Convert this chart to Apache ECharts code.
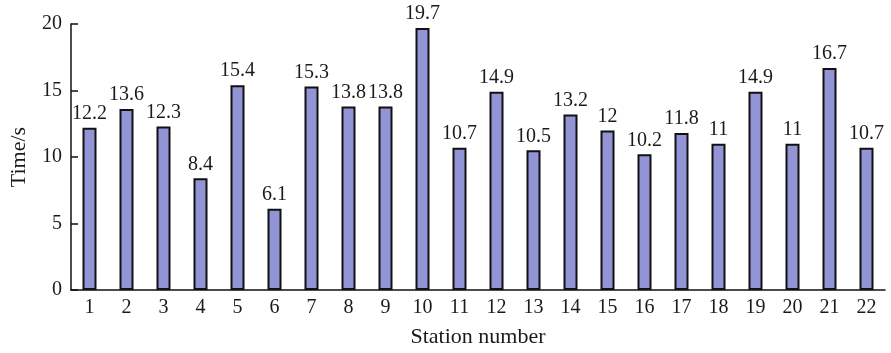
<!DOCTYPE html>
<html><head><meta charset="utf-8">
<script src="https://cdn.jsdelivr.net/npm/echarts@6/dist/echarts.min.js"></script>
<style>html,body{margin:0;padding:0;background:#fff}#c{width:891px;height:353px}</style>
</head><body><div id="c"></div>
<script>
const categories = ['1','2','3','4','5','6','7','8','9','10','11','12','13','14','15','16','17','18','19','20','21','22'];
const times = [12.2,13.6,12.3,8.4,15.4,6.1,15.3,13.8,13.8,19.7,10.7,14.9,10.5,13.2,12,10.2,11.8,11,14.9,11,16.7,10.7];
const yTicks = [0,5,10,15,20];
const font = '"Liberation Serif","DejaVu Serif",serif';
const chart = echarts.init(document.getElementById('c'), null, {renderer:'canvas'});
chart.setOption({
  animation:false,
  grid:{left:67,right:6,top:24,bottom:61},
  xAxis:{type:'category',data:categories,name:'Station number',nameLocation:'middle',nameGap:36,
    nameTextStyle:{fontFamily:font,fontSize:22,color:'#1a1a1a'},
    axisLine:{lineStyle:{color:'#111',width:1.5}},
    axisTick:{inside:true,length:7,lineStyle:{color:'#111',width:1.5}},
    axisLabel:{fontFamily:font,fontSize:20,color:'#1a1a1a',margin:8}},
  yAxis:{type:'value',min:0,max:20,interval:5,name:'Time/s',nameLocation:'middle',nameGap:41,
    nameTextStyle:{fontFamily:font,fontSize:22,color:'#1a1a1a'},
    axisLine:{show:true,lineStyle:{color:'#111',width:1.5}},
    axisTick:{show:true,inside:true,length:7,lineStyle:{color:'#111',width:1.5}},
    splitLine:{show:false},
    axisLabel:{fontFamily:font,fontSize:20,color:'#1a1a1a',margin:9,formatter:v=>yTicks.includes(v)?String(v):''}},
  series:[{type:'bar',data:times,barWidth:14,
    itemStyle:{color:'#9294d6',borderColor:'#111',borderWidth:2},
    label:{show:true,position:'top',distance:4,fontFamily:font,fontSize:20,color:'#1a1a1a'}}]
});
</script></body></html>
